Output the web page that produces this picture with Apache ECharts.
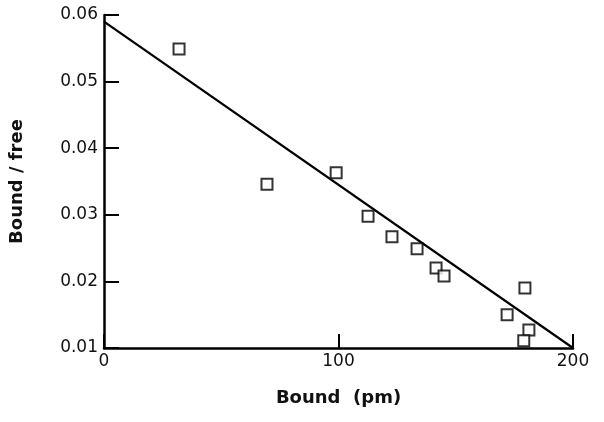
<!DOCTYPE html>
<html><head><meta charset="utf-8">
<script src="https://cdn.jsdelivr.net/npm/echarts@6/dist/echarts.min.js"></script>
<style>html,body{margin:0;padding:0;background:#fff}#c{width:604px;height:422px}</style>
</head><body><div id="c"></div>
<script>
const boundX = [32, 69.5, 99, 112.6, 122.8, 133.5, 141.6, 145, 179.5, 171.9, 181.2, 179];
const boundFreeY = [0.0549, 0.0346, 0.0363, 0.0298, 0.0267, 0.0249, 0.0220, 0.0208, 0.0190, 0.0150, 0.0127, 0.0111];
const fitX = [0, 200];
const fitY = [0.059, 0.010];
const xTicks = [0, 100, 200];
const yTicks = [0.01, 0.02, 0.03, 0.04, 0.05, 0.06];

const font = '"DejaVu Sans", sans-serif';
const chart = echarts.init(document.getElementById('c'));
chart.setOption({
  animation: false,
  backgroundColor: '#fff',
  grid: { left: 104, right: 31, top: 15, bottom: 74, containLabel: false, outerBoundsMode: 'none' },
  xAxis: {
    type: 'value', min: 0, max: 200, interval: 100,
    name: 'Bound  (pm)', nameLocation: 'middle', nameGap: 41,
    nameTextStyle: { fontFamily: font, fontSize: 18, fontWeight: 'bold', color: '#111' },
    axisLine: { show: true, lineStyle: { color: '#000', width: 2.5 } },
    axisTick: { show: true, inside: true, length: 14, lineStyle: { color: '#000', width: 2 } },
    axisLabel: { fontFamily: font, fontSize: 17, color: '#111', margin: 5,
      formatter: v => xTicks.includes(v) ? String(v) : '' },
    splitLine: { show: false }
  },
  yAxis: {
    type: 'value', min: 0.01, max: 0.06, interval: 0.01,
    name: 'Bound / free', nameLocation: 'middle', nameGap: 78, nameRotate: 90,
    nameTextStyle: { fontFamily: font, fontSize: 18, fontWeight: 'bold', color: '#111' },
    axisLine: { show: true, lineStyle: { color: '#000', width: 2.5 } },
    axisTick: { show: true, inside: true, length: 15, lineStyle: { color: '#000', width: 2 } },
    axisLabel: { fontFamily: font, fontSize: 17, color: '#111', margin: 6,
      formatter: v => { const t = yTicks.find(k => Math.abs(k - v) < 1e-9); return t !== undefined ? t.toFixed(2) : ''; } },
    splitLine: { show: false }
  },
  series: [
    {
      type: 'line', data: fitX.map((x, i) => [x, fitY[i]]), symbol: 'none',
      lineStyle: { color: '#000', width: 2.2 }, z: 2
    },
    {
      type: 'scatter', data: boundX.map((x, i) => [x, boundFreeY[i]]),
      symbol: 'rect', symbolSize: 11,
      itemStyle: { color: '#fff', borderColor: '#000', borderWidth: 2 }, z: 3
    }
  ]
});
</script></body></html>
